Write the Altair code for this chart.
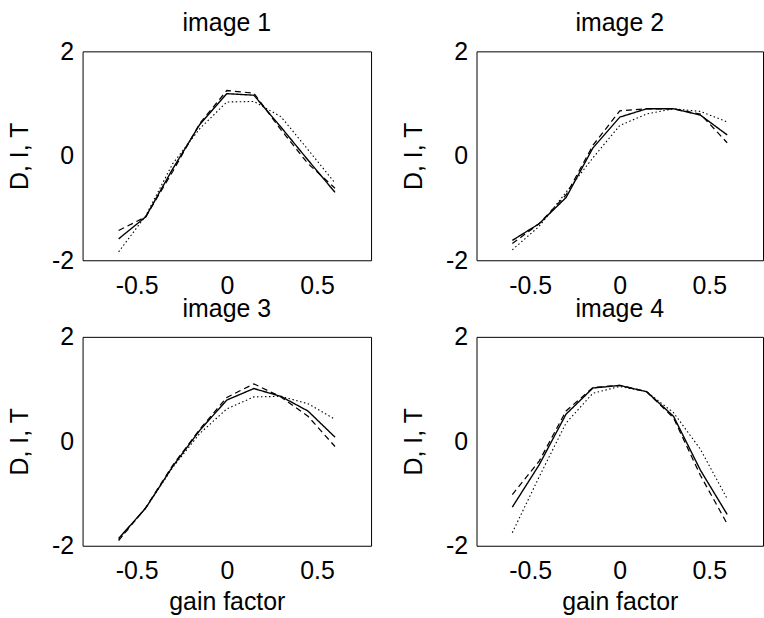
import altair as alt
import pandas as pd

gain = [-0.6, -0.45, -0.3, -0.15, 0.0, 0.15, 0.3, 0.45, 0.6]
series_names = ["D", "I", "T"]
titles = ["image 1", "image 2", "image 3", "image 4"]

# image 1
img1_D = [-1.59, -1.17, -0.25, 0.60, 1.19, 1.16, 0.55, -0.08, -0.70]
img1_I = [-1.43, -1.17, -0.30, 0.62, 1.25, 1.20, 0.50, -0.15, -0.62]
img1_T = [-1.84, -1.15, -0.15, 0.52, 1.03, 1.04, 0.75, 0.12, -0.52]
# image 2
img2_D = [-1.62, -1.30, -0.80, 0.15, 0.74, 0.90, 0.90, 0.78, 0.40]
img2_I = [-1.68, -1.30, -0.75, 0.20, 0.86, 0.90, 0.90, 0.80, 0.25]
img2_T = [-1.80, -1.35, -0.70, -0.04, 0.58, 0.80, 0.90, 0.85, 0.65]
# image 3
img3_D = [-1.86, -1.28, -0.48, 0.21, 0.79, 1.01, 0.86, 0.58, 0.08]
img3_I = [-1.90, -1.27, -0.46, 0.23, 0.84, 1.10, 0.85, 0.48, -0.10]
img3_T = [-1.88, -1.28, -0.50, 0.15, 0.62, 0.85, 0.86, 0.72, 0.42]
# image 4
img4_D = [-1.26, -0.45, 0.52, 1.02, 1.07, 0.95, 0.48, -0.55, -1.40]
img4_I = [-1.02, -0.38, 0.58, 1.03, 1.07, 0.95, 0.45, -0.65, -1.58]
img4_T = [-1.75, -0.68, 0.35, 0.92, 1.05, 0.95, 0.55, -0.15, -1.10]

x_ticks = [-0.5, 0, 0.5]
y_ticks = [-2, 0, 2]

FONT = "Liberation Sans"
FS = 25


def panel(title, D, I, T, xtitle, width):
    df = pd.DataFrame({
        "gain": gain * 3,
        "value": D + I + T,
        "series": ["D"] * len(gain) + ["I"] * len(gain) + ["T"] * len(gain),
    })
    if xtitle:
        xaxis = alt.Axis(values=x_ticks, labelExpr="'' + datum.value", grid=False,
                         ticks=False, tickSize=0, domain=False, labelPadding=13,
                         labelFlush=False, title=xtitle, titlePadding=6)
    else:
        xaxis = alt.Axis(values=x_ticks, labelExpr="'' + datum.value", grid=False,
                         ticks=False, tickSize=0, domain=False, labelPadding=13,
                         labelFlush=False, title=None)
    return alt.Chart(df).mark_line(color="black", clip=True).encode(
        x=alt.X("gain:Q", scale=alt.Scale(domain=[-0.8, 0.8], nice=False, zero=False),
                axis=xaxis),
        y=alt.Y("value:Q", scale=alt.Scale(domain=[-2, 2], nice=False, zero=False),
                axis=alt.Axis(values=y_ticks, labelExpr="'' + datum.value", grid=False,
                              ticks=False, tickSize=0, domain=False, labelPadding=9,
                              labelFlush=False, title="D, I, T", titlePadding=19)),
        strokeDash=alt.StrokeDash("series:N",
                                  scale=alt.Scale(domain=series_names,
                                                  range=[[1, 0], [6, 4], [1.5, 2.5]]),
                                  legend=None),
        strokeWidth=alt.StrokeWidth("series:N",
                                    scale=alt.Scale(domain=series_names,
                                                    range=[1.4, 1.1, 1.1]),
                                    legend=None),
        detail="series:N",
    ).properties(
        width=width, height=210,
        title=alt.TitleParams(title, frame="group", anchor="middle",
                              baseline="bottom", offset=-22),
    )


p1 = panel(titles[0], img1_D, img1_I, img1_T, None, 290)
p2 = panel(titles[1], img2_D, img2_I, img2_T, None, 288)
p3 = panel(titles[2], img3_D, img3_I, img3_T, "gain factor", 290)
p4 = panel(titles[3], img4_D, img4_I, img4_T, "gain factor", 288)

chart = alt.concat(p1, p2, p3, p4, columns=2, bounds="flush",
                   spacing={"row": 77, "column": 106}).properties(
    padding={"left": 7, "top": 9, "right": 0, "bottom": 0},
    background="white",
).configure_view(
    stroke="black", strokeWidth=1,
).configure_axis(
    labelFont=FONT, labelFontSize=FS, labelColor="black",
    titleFont=FONT, titleFontSize=FS, titleColor="black", titleFontWeight="normal",
).configure_title(
    font=FONT, fontSize=FS, color="black", fontWeight="normal",
)

chart.save("out.html", embed_options={"renderer": "svg", "actions": False})
